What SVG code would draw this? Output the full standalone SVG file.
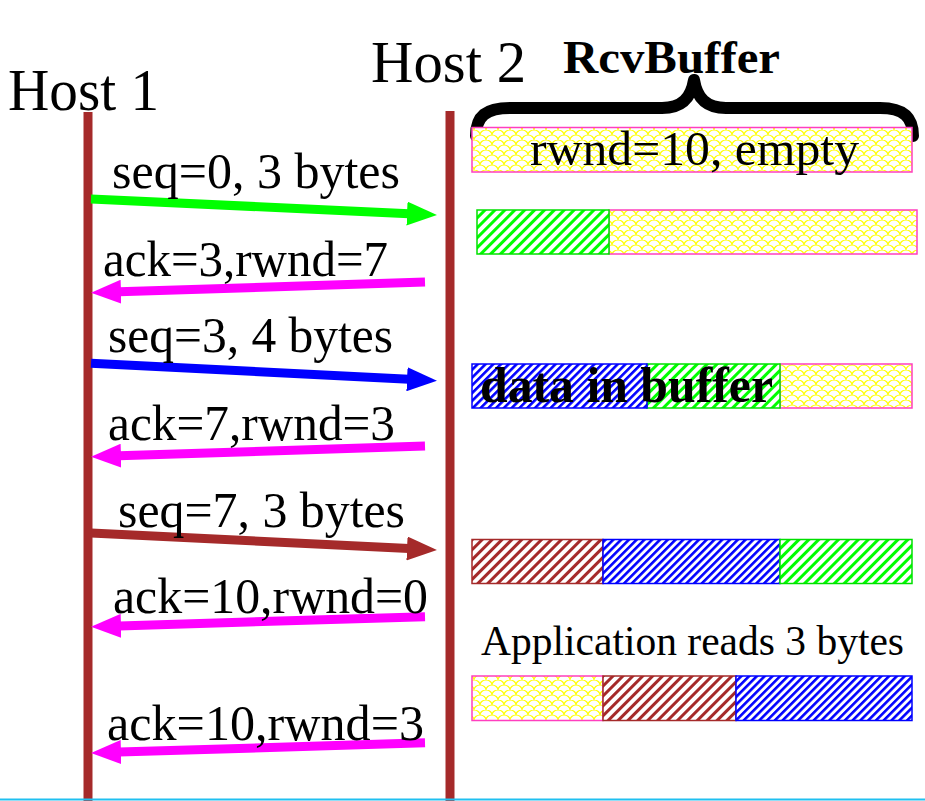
<svg xmlns="http://www.w3.org/2000/svg" width="925" height="801" viewBox="0 0 925 801">
<style>
  .host { font-family: "Liberation Serif", "Times New Roman", serif; font-size: 60px; fill: #000; }
  .lbl { font-family: "Liberation Serif", "Times New Roman", serif; font-size: 50px; fill: #000; }
  .btxt { font-family: "Liberation Serif", "Times New Roman", serif; font-size: 48px; fill: #000; }
  .app { font-family: "Liberation Serif", "Times New Roman", serif; font-size: 42px; fill: #000; }
  .bold { font-family: "Liberation Serif", "Times New Roman", serif; font-weight: bold; fill: #000; }
  .life { stroke: #a52a2a; stroke-width: 9; fill: none; }
  .msg { stroke-width: 9; fill: none; }
  .empty { fill: url(#scales); stroke: #ff3fbf; stroke-width: 1.5; }
  .g { fill: url(#hatchGreen); stroke: #00e000; stroke-width: 1.5; }
  .b { fill: url(#hatchBlue); stroke: #0000ff; stroke-width: 1.5; }
  .r { fill: url(#hatchBrown); stroke: #a52a2a; stroke-width: 1.5; }
</style>
<defs>
  <pattern id="scales" patternUnits="userSpaceOnUse" width="12" height="10">
    <rect width="12" height="10" fill="#fff"/>
    <path d="M0,5 A6,5 0 0 1 12,5 M-6,10 A6,5 0 0 1 6,10 M6,10 A6,5 0 0 1 18,10 M-6,0 A6,5 0 0 1 6,0 M6,0 A6,5 0 0 1 18,0" fill="none" stroke="#ffff00" stroke-width="1.1"/>
  </pattern>
  <pattern id="hatchGreen" patternUnits="userSpaceOnUse" width="7" height="7" patternTransform="rotate(45)">
    <rect width="7" height="7" fill="#fff"/>
    <rect x="0" y="0" width="3" height="7" fill="#00ff00"/>
  </pattern>
  <pattern id="hatchBlue" patternUnits="userSpaceOnUse" width="5.5" height="5.5" patternTransform="rotate(45)">
    <rect width="5.5" height="5.5" fill="#fff"/>
    <rect x="0" y="0" width="2.6" height="5.5" fill="#0000ff"/>
  </pattern>
  <pattern id="hatchBrown" patternUnits="userSpaceOnUse" width="7" height="7" patternTransform="rotate(45)">
    <rect width="7" height="7" fill="#fff"/>
    <rect x="0" y="0" width="3" height="7" fill="#a52a2a"/>
  </pattern>
  <marker id="hGreen" viewBox="0 0 30 24" refX="2" refY="12" markerWidth="30" markerHeight="24" markerUnits="userSpaceOnUse" orient="auto">
    <path d="M0,0 L30,12 L0,24 z" fill="#00ff00"/>
  </marker>
  <marker id="hBlue" viewBox="0 0 30 24" refX="2" refY="12" markerWidth="30" markerHeight="24" markerUnits="userSpaceOnUse" orient="auto">
    <path d="M0,0 L30,12 L0,24 z" fill="#0000ff"/>
  </marker>
  <marker id="hBrown" viewBox="0 0 30 24" refX="2" refY="12" markerWidth="30" markerHeight="24" markerUnits="userSpaceOnUse" orient="auto">
    <path d="M0,0 L30,12 L0,24 z" fill="#a52a2a"/>
  </marker>
  <marker id="hMag" viewBox="0 0 30 24" refX="2" refY="12" markerWidth="30" markerHeight="24" markerUnits="userSpaceOnUse" orient="auto">
    <path d="M0,0 L30,12 L0,24 z" fill="#ff00ff"/>
  </marker>
</defs>
<rect width="925" height="801" fill="#fff"/>

<g id="host1">
  <text class="host" x="8" y="110" textLength="151" lengthAdjust="spacingAndGlyphs">Host 1</text>
  <line class="life" x1="88" y1="112" x2="88" y2="801"/>
</g>
<g id="host2">
  <text class="host" x="371" y="82" textLength="155" lengthAdjust="spacingAndGlyphs">Host 2</text>
  <line class="life" x1="450" y1="111" x2="450" y2="801"/>
</g>

<g id="rcvbuffer">
  <text class="bold" x="563" y="73" font-size="46" textLength="217" lengthAdjust="spacingAndGlyphs">RcvBuffer</text>
  <path d="M476,136 C476,116 486,108 510,108 L662,108 C682,108 691,98 694,80 C697,98 706,108 726,108 L880,108 C904,108 913,117 913,136" fill="none" stroke="#000" stroke-width="12" stroke-linecap="round" stroke-linejoin="round"/>
</g>

<g id="buffer0">
  <rect class="empty" x="472" y="127.5" width="440" height="44.5"/>
  <text class="btxt" x="530" y="165" textLength="329" lengthAdjust="spacingAndGlyphs">rwnd=10, empty</text>
</g>
<g id="buffer1">
  <rect class="empty" x="609" y="210" width="308" height="44"/>
  <rect class="g" x="477" y="210" width="132" height="44"/>
</g>
<g id="buffer2">
  <rect class="empty" x="780" y="364" width="132" height="44"/>
  <rect class="g" x="647" y="364" width="133" height="44"/>
  <rect class="b" x="472" y="364" width="175" height="44"/>
  <text class="bold" x="480" y="402" font-size="50" textLength="293" lengthAdjust="spacingAndGlyphs">data in buffer</text>
</g>
<g id="buffer3">
  <rect class="r" x="472" y="539.5" width="131" height="44"/>
  <rect class="b" x="603" y="539.5" width="177" height="44"/>
  <rect class="g" x="780" y="539.5" width="132" height="44"/>
</g>
<g id="appread">
  <text class="app" x="481" y="655" textLength="423" lengthAdjust="spacingAndGlyphs">Application reads 3 bytes</text>
</g>
<g id="buffer4">
  <rect class="empty" x="472" y="676" width="131" height="44.5"/>
  <rect class="r" x="603" y="676" width="133" height="44.5"/>
  <rect class="b" x="736" y="676" width="176" height="44.5"/>
</g>

<g id="connectors">
  <line class="msg" x1="91" y1="199" x2="409" y2="213.7" stroke="#00ff00" marker-end="url(#hGreen)"/>
  <line class="msg" x1="425" y1="282" x2="119" y2="291.8" stroke="#ff00ff" marker-end="url(#hMag)"/>
  <line class="msg" x1="91" y1="363.3" x2="409" y2="379.3" stroke="#0000ff" marker-end="url(#hBlue)"/>
  <line class="msg" x1="425" y1="446" x2="119" y2="455.8" stroke="#ff00ff" marker-end="url(#hMag)"/>
  <line class="msg" x1="91" y1="533" x2="409" y2="548.6" stroke="#a52a2a" marker-end="url(#hBrown)"/>
  <line class="msg" x1="425" y1="616.7" x2="119" y2="625.9" stroke="#ff00ff" marker-end="url(#hMag)"/>
  <line class="msg" x1="425" y1="742.7" x2="119" y2="752.1" stroke="#ff00ff" marker-end="url(#hMag)"/>
</g>

<g id="labels">
  <text class="lbl" x="112" y="188" textLength="288" lengthAdjust="spacingAndGlyphs">seq=0, 3 bytes</text>
  <text class="lbl" x="103" y="276" textLength="285" lengthAdjust="spacingAndGlyphs">ack=3,rwnd=7</text>
  <text class="lbl" x="108" y="352" textLength="285" lengthAdjust="spacingAndGlyphs">seq=3, 4 bytes</text>
  <text class="lbl" x="108" y="440" textLength="287" lengthAdjust="spacingAndGlyphs">ack=7,rwnd=3</text>
  <text class="lbl" x="118" y="527" textLength="287" lengthAdjust="spacingAndGlyphs">seq=7, 3 bytes</text>
  <text class="lbl" x="113" y="613" textLength="315" lengthAdjust="spacingAndGlyphs">ack=10,rwnd=0</text>
  <text class="lbl" x="107" y="740" textLength="317" lengthAdjust="spacingAndGlyphs">ack=10,rwnd=3</text>
</g>

<line id="baseline" x1="0" y1="799.5" x2="925" y2="799.5" stroke="#20c0f0" stroke-width="2"/>
</svg>
